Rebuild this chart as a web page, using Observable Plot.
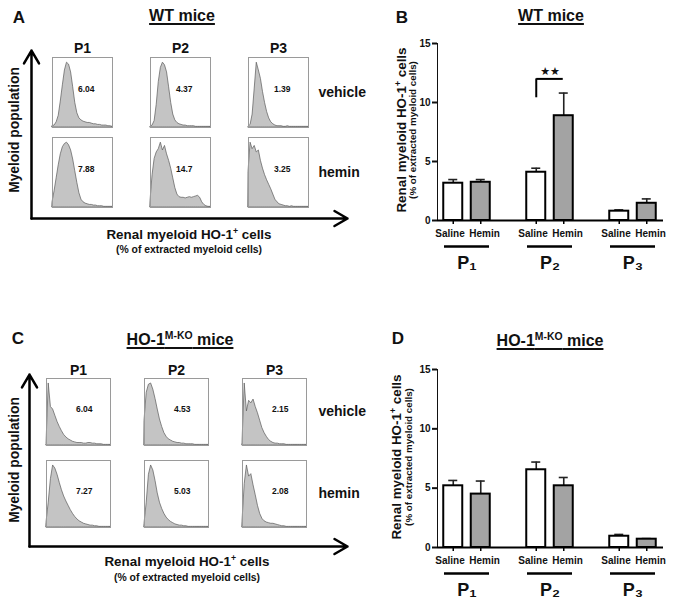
<!DOCTYPE html>
<html><head><meta charset="utf-8">
<script src="https://cdn.jsdelivr.net/npm/d3@7"></script>
<script src="https://cdn.jsdelivr.net/npm/@observablehq/plot@0.6"></script>
<style>
body{margin:0;background:#fff;}
#fig{position:relative;width:675px;height:600px;font-family:"Liberation Sans",Arial,Helvetica,sans-serif;font-weight:bold;color:#111;overflow:hidden;background:#fff}
.t{position:absolute;white-space:nowrap;transform:translate(-50%,-50%);line-height:1}
.r{transform:translate(-50%,-50%) rotate(-90deg)}
.u{text-decoration:underline;text-decoration-thickness:1.5px;text-underline-offset:2px}
sup{font-size:0.65em;vertical-align:0;position:relative;top:-0.55em}
[aria-label^="y-axis"] path,[aria-label^="y-axis"] line{stroke-width:2px}
</style></head>
<body><div id="fig"></div>
<script>
// ---------------- data ----------------
const cols = ["P1", "P2", "P3"];
const rows = ["vehicle", "hemin"];

// flow-cytometry histograms (30 bins, relative counts) — WT mice
const wtVehP1 = [2,3,8,18,40,65,88,100,97,85,62,38,22,14,11,9,8,7,7,6,5,5,4,4,3,3,3,2,2,1];
const wtVehP2 = [1,3,10,35,70,92,100,96,85,62,38,20,11,7,5,4,3,3,2,2,2,2,1,1,1,1,1,1,1,1];
const wtVehP3 = [1,4,20,60,100,88,75,55,38,24,14,8,5,3,2,2,2,1,1,2,1,1,1,1,1,1,1,1,1,1];
const wtHemP1 = [8,25,45,65,82,93,98,100,96,88,74,56,38,22,12,8,6,5,4,4,3,3,2,2,2,1,1,1,1,1];
const wtHemP2 = [10,50,75,85,90,100,88,95,82,72,60,45,30,20,16,15,15,14,15,16,15,16,17,18,15,8,4,2,1,1];
const wtHemP3 = [55,100,90,95,85,88,72,60,50,42,35,28,20,12,8,5,4,3,2,2,1,2,1,1,1,1,1,1,1,1];
const wtPct = [["6.04", "4.37", "1.39"], ["7.88", "14.7", "3.25"]];

// HO-1 M-KO mice
const koVehP1 = [3,100,62,58,48,38,30,23,17,13,10,8,6,5,4,4,4,3,3,4,4,3,3,2,2,2,1,1,1,1];
const koVehP2 = [40,85,98,100,90,75,58,42,30,20,14,10,8,6,5,4,4,3,3,2,2,2,2,1,1,1,1,1,1,1];
const koVehP3 = [5,100,55,72,68,74,62,52,40,28,20,14,9,6,4,3,3,2,2,2,1,1,1,1,1,1,1,1,1,1];
const koHemP1 = [8,40,78,100,95,85,72,60,50,42,35,28,22,17,13,10,8,6,5,4,3,3,2,2,1,1,1,1,1,1];
const koHemP2 = [6,40,85,100,92,75,55,40,30,22,16,12,9,7,5,4,3,3,2,2,1,1,1,1,1,1,1,1,1,1];
const koHemP3 = [10,70,100,82,86,68,52,35,22,14,10,8,7,6,6,5,4,3,2,2,1,1,1,1,1,1,1,1,1,1];
const koPct = [["6.04", "4.53", "2.15"], ["7.27", "5.03", "2.08"]];

// bar charts: % renal myeloid HO-1+ cells (mean and mean+SEM)
const groups = ["P1", "P2", "P3"];
const groupLabels = ["P\u2081", "P\u2082", "P\u2083"];
const treatments = ["Saline", "Hemin"];
const yTicks = [0, 5, 10, 15];

const wtSaline    = [3.16, 4.09, 0.79];
const wtSalineErr = [3.47, 4.43, 0.90];
const wtHemin     = [3.24, 8.88, 1.46];
const wtHeminErr  = [3.47, 10.8, 1.83];
const wtSig = [{g: "P2", low: 10.4, top: 12.0, text: "\u2605\u2605"}];

const koSaline    = [5.2, 6.55, 0.95];
const koSalineErr = [5.65, 7.2, 1.1];
const koHemin     = [4.5, 5.2, 0.7];
const koHeminErr  = [5.6, 5.9, 0.75];

const axisArrows = [{x1: 0, y1: 0, x2: 0, y2: 1}, {x1: 0, y1: 0, x2: 1, y2: 0}];

// ---------------- helpers ----------------
const FONT = '"Liberation Sans", Arial, Helvetica, sans-serif';
const fig = document.getElementById("fig");
function place(node, left, top) {
  const d = document.createElement("div");
  d.style.cssText = `position:absolute;left:${left}px;top:${top}px`;
  d.appendChild(node);
  fig.appendChild(d);
}
function label(html, x, y, size, cls = "") {
  const d = document.createElement("div");
  d.className = "t " + cls;
  d.style.left = x + "px"; d.style.top = y + "px"; d.style.fontSize = size + "px";
  d.innerHTML = html;
  fig.appendChild(d);
}

function histPanel(hists, pcts, g) {
  const table = [];
  rows.forEach((r, ri) => cols.forEach((c, ci) => hists[ri][ci].forEach((v, b) =>
    table.push({row: r, col: c, bin: b, count: v, pct: pcts[ri][ci]}))));
  return Plot.plot({
    width: g.width, height: g.height,
    marginLeft: g.x0, marginRight: g.width - g.x1, marginTop: g.y0, marginBottom: g.height - g.y1,
    style: {fontFamily: FONT, fontSize: "14px", fontWeight: "bold", background: "transparent", color: "#111", overflow: "visible"},
    facet: {data: table, x: "col", y: "row"},
    fx: {domain: cols, range: [g.x0, g.x1], paddingInner: g.px, paddingOuter: 0, axis: "top", label: null, tickSize: 0, tickPadding: g.fxPad},
    fy: {domain: rows, range: [g.y0, g.y1], paddingInner: g.py, paddingOuter: 0, axis: "right", label: null, tickSize: 0, tickPadding: g.fyPad},
    x: {domain: [0, 29], axis: null},
    y: {domain: [0, 108], axis: null},
    marks: [
      Plot.areaY(table, {x: "bin", y: "count", fill: "#c4c4c4", stroke: "#5a5a5a", strokeWidth: 0.7}),
      Plot.frame({stroke: "#9a9a9a", strokeWidth: 1}),
      Plot.text(table, {filter: d => d.bin === 0, text: "pct", frameAnchor: "right", dx: -18, dy: -3, fontSize: 8.5})
    ]
  });
}

function arrowPanel(g) {
  return Plot.plot({
    width: g.width, height: g.height,
    marginLeft: g.ax, marginRight: g.width - g.tipX, marginTop: g.tipY, marginBottom: g.height - g.ay,
    style: {background: "transparent", overflow: "visible"},
    x: {domain: [0, 1], axis: null}, y: {domain: [0, 1], axis: null},
    marks: [Plot.arrow(axisArrows, {x1: "x1", y1: "y1", x2: "x2", y2: "y2", stroke: "#000", strokeWidth: 2.5, headLength: 9})]
  });
}

function barPanel(saline, salineErr, hemin, heminErr, sig, g) {
  const S = groups.map((k, i) => ({g: k, t: treatments[0], v: saline[i], e: salineErr[i]}));
  const H = groups.map((k, i) => ({g: k, t: treatments[1], v: hemin[i], e: heminErr[i]}));
  const off = 13.75;
  const marks = [];
  [[S, -off, "#ffffff", -17], [H, off, "#a3a3a3", 17.5]].forEach(([data, dx, fill, tdx]) => {
    marks.push(
      Plot.ruleX(data, {x: "g", y1: "v", y2: "e", dx, stroke: "#222", strokeWidth: 1.6}),
      Plot.ruleY(data, {x1: "g", x2: "g", y: "e", dx, insetLeft: 23, insetRight: 23, stroke: "#222", strokeWidth: 1.6}),
      Plot.barY(data, {x: "g", y: "v", dx, insetLeft: 18, insetRight: 18, fill, stroke: "#000", strokeWidth: 2}),
      Plot.ruleX(data, {x: "g", y1: () => 0, y2: () => 0, insetBottom: -4, dx, stroke: "#000", strokeWidth: 1.5}),
      Plot.text(data, {x: "g", y: () => 0, dy: 13, dx: tdx, text: "t", fontSize: 10})
    );
  });
  marks.push(
    Plot.ruleY([0], {stroke: "#000", strokeWidth: 2}),
    Plot.ruleY(groups, {x1: d => d, x2: d => d, y: () => 0, dy: 26, insetLeft: 5, insetRight: 5, stroke: "#000", strokeWidth: 2.5}),
    Plot.text(groups, {x: d => d, y: () => 0, dy: 43, text: (d, i) => groupLabels[i], fontSize: 18})
  );
  if (sig) {
    marks.push(
      Plot.ruleX(sig, {x: "g", y1: "low", y2: "top", dx: -off, stroke: "#000", strokeWidth: 2}),
      Plot.ruleY(sig, {x1: "g", x2: "g", y: "top", insetLeft: 28 - off, insetRight: 28 - off, stroke: "#000", strokeWidth: 2}),
      Plot.text(sig, {x: "g", y: "top", dy: -7, text: "text", fontSize: 11, fontFamily: "DejaVu Sans"})
    );
  }
  return Plot.plot({
    width: g.width, height: g.height,
    marginLeft: g.ml, marginRight: g.mr, marginTop: g.mt, marginBottom: g.mb,
    style: {fontFamily: FONT, fontSize: "10px", fontWeight: "bold", background: "transparent", color: "#111", overflow: "visible"},
    x: {type: "band", domain: groups, paddingInner: 0.333, paddingOuter: 0.012, axis: null},
    y: {domain: [0, 15], ticks: yTicks, tickSize: 5, tickPadding: 2, line: true, label: null},
    marks
  });
}

// ---------------- panel A ----------------
place(histPanel([[wtVehP1, wtVehP2, wtVehP3], [wtHemP1, wtHemP2, wtHemP3]], wtPct,
  {width: 380, height: 215, x0: 52, x1: 308, px: 0.388, y0: 57, y1: 207, py: 0.125, fxPad: 5, fyPad: 10}), 0, 0);
place(arrowPanel({width: 360, height: 230, ax: 31, tipX: 347, tipY: 50, ay: 218}), 0, 0);
label("A", 19, 17, 17);
label("WT mice", 182, 16, 16, "u");
label("Myeloid population", 15, 130, 13.8, "r");
label("Renal myeloid HO-1<sup>+</sup> cells", 189, 235, 13.4);
label("(% of extracted myeloid cells)", 189, 250, 10.4);

// ---------------- panel B ----------------
place(barPanel(wtSaline, wtSalineErr, wtHemin, wtHeminErr, wtSig,
  {width: 335, height: 280, ml: 97, mr: 12, mt: 43, mb: 60}), 340, 0);
label("B", 402, 17, 17);
label("WT mice", 551, 16, 16, "u");
label("Renal myeloid HO-1<sup>+</sup> cells", 402, 130, 13.4, "r");
label("(% of extracted myeloid cells)", 413, 130, 9.8, "r");

// ---------------- panel C ----------------
place(histPanel([[koVehP1, koVehP2, koVehP3], [koHemP1, koHemP2, koHemP3]], koPct,
  {width: 380, height: 235, x0: 46, x1: 306, px: 0.347, y0: 78, y1: 227, py: 0.183, fxPad: 4, fyPad: 12}), 0, 300);
place(arrowPanel({width: 360, height: 260, ax: 29, tipX: 347, tipY: 74, ay: 246}), 0, 300);
label("C", 18, 338, 17);
label("HO-1<sup>M-KO</sup> mice", 180, 340, 16, "u");
label("Myeloid population", 15, 460, 13.8, "r");
label("Renal myeloid HO-1<sup>+</sup> cells", 187, 562, 13.4);
label("(% of extracted myeloid cells)", 187, 578, 10.4);

// ---------------- panel D ----------------
place(barPanel(koSaline, koSalineErr, koHemin, koHeminErr, null,
  {width: 335, height: 300, ml: 97, mr: 12, mt: 69, mb: 53}), 340, 300);
label("D", 398, 338, 17);
label("HO-1<sup>M-KO</sup> mice", 550, 341, 16, "u");
label("Renal myeloid HO-1<sup>+</sup> cells", 397, 457, 13.4, "r");
label("(% of extracted myeloid cells)", 409, 457, 9.8, "r");
</script></body></html>
